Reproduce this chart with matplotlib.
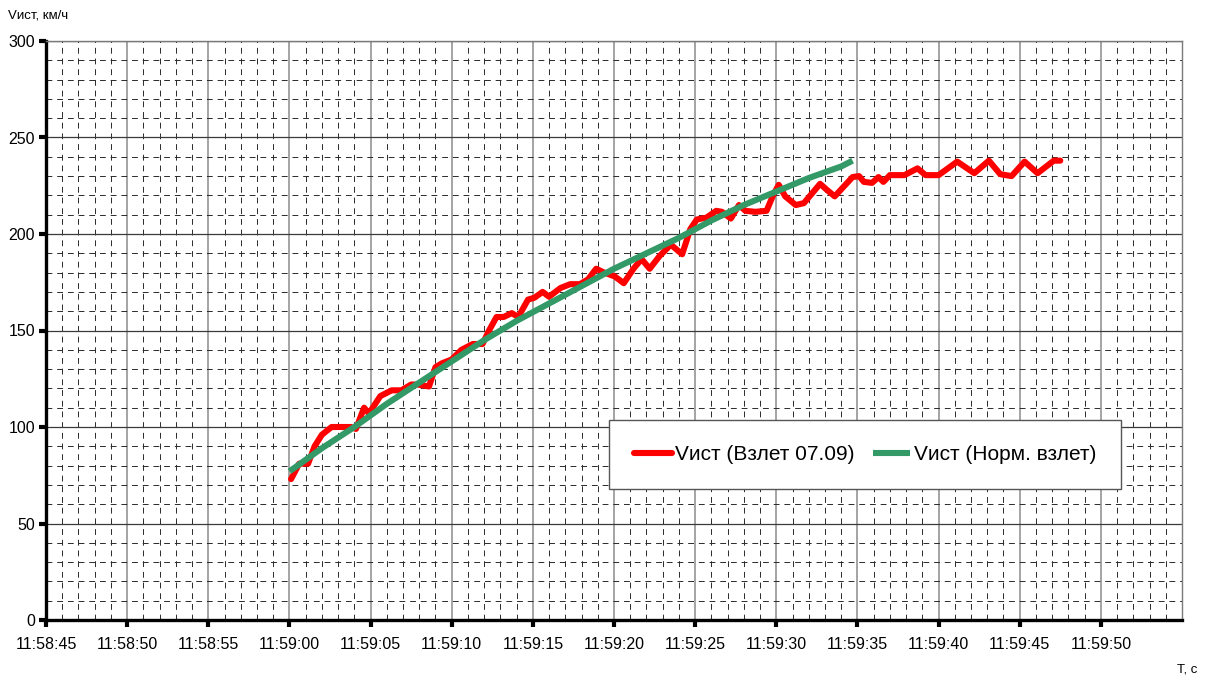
import datetime as dt
import matplotlib
matplotlib.use("Agg")
import matplotlib.pyplot as plt
import matplotlib.dates as mdates

plt.rcParams['font.family'] = ['Liberation Sans', 'DejaVu Sans']

# Data (seconds after 11:59:00, km/h)
base = dt.datetime(2000, 1, 1, 11, 59, 0)

red_t = [0.1, 0.6, 1.15, 1.55, 2.0, 2.6, 3.8, 4.1, 4.6, 4.9, 5.6, 6.3, 6.9, 7.5,
         7.9, 8.6, 9.0, 9.4, 10.0, 10.6, 11.3, 11.9, 12.3, 12.76, 13.2, 13.7, 14.1,
         14.7, 15.1, 15.6, 16.0, 16.7, 17.3, 17.9, 18.4, 18.9, 19.4, 20.05, 20.6,
         21.2, 21.7, 22.2, 22.8, 23.5, 24.2, 24.7, 25.1, 25.7, 26.3, 26.65, 27.2,
         27.7, 28.1, 28.7, 29.4, 29.8, 30.15, 30.55, 31.2, 31.7, 32.2, 32.7, 33.1,
         33.6, 34.15, 34.7, 35.1, 35.4, 35.9, 36.3, 36.6, 37.0, 37.9, 38.7, 39.2,
         40.0, 41.15, 42.2, 43.1, 43.8, 44.5, 45.3, 46.1, 47.1, 47.5]
red_v = [73, 81, 81, 90, 96, 100, 100, 99, 110, 107, 116, 119, 119, 122,
         122, 121, 131, 133, 135, 140, 143, 143, 150, 157, 157, 159, 157,
         166, 167, 170, 167.5, 172, 174, 174, 176.5, 182, 180, 178, 174.5,
         182, 187, 182, 188.5, 194.5, 189.5, 202.5, 207.5, 208.5, 212, 211.5, 208,
         215, 212, 211.5, 212, 220, 225.5, 219.5, 215, 216, 221, 226, 223,
         219.5, 224.5, 229.5, 230, 227, 226.5, 229.5, 227, 230.5, 230.5, 234, 230.5,
         230.5, 237.5, 231.5, 238, 231, 230, 237.5, 231.5, 238, 238]

green_t = [0, 2, 4, 6, 8, 10, 12, 14, 16, 18, 20, 22, 24, 26, 28, 30, 32, 34, 34.7]
green_v = [77, 89, 100, 112, 123, 134, 145, 155, 164, 173, 182, 190, 198, 207,
           215, 222, 229, 235, 238]

# x tick positions (seconds after 11:59:00)
tick_secs = list(range(-15, 51, 5))

label_red = 'Vист (Взлет 07.09)'
label_green = 'Vист (Норм. взлет)'


def to_time(secs):
    return [base + dt.timedelta(seconds=s) for s in secs]


fig = plt.figure(figsize=(12.06, 6.78), dpi=100)
ax = fig.add_axes([46 / 1206, 1 - 620 / 678, 1136 / 1206, 579 / 678])

ax.plot(to_time(red_t), red_v, color='#ff0000', lw=4.4, solid_joinstyle='round',
        solid_capstyle='round', label=label_red, zorder=3)
ax.plot(to_time(green_t), green_v, color='#339966', lw=4.4, solid_capstyle='butt',
        label=label_green, zorder=4)

ax.set_xlim(base - dt.timedelta(seconds=15), base + dt.timedelta(seconds=55))
ax.set_ylim(0, 300)

ax.set_xticks(mdates.date2num(to_time(tick_secs)))
ax.xaxis.set_minor_locator(mdates.SecondLocator())
ax.xaxis.set_major_formatter(mdates.DateFormatter('%H:%M:%S'))
ax.set_yticks(range(0, 301, 50))
ax.set_yticks(range(0, 301, 10), minor=True)

# grid
ax.set_axisbelow(True)
ax.grid(which='major', axis='y', color='#3a3a3a', lw=0.9, ls='-')
ax.grid(which='major', axis='x', color='#8c8c8c', lw=1.1, ls='-')
ax.grid(which='minor', color='#2a2a2a', lw=0.7, ls=(0, (6, 5)))

ax.tick_params(which='major', direction='out', length=5, width=3, color='black',
               labelsize=11.5)
ax.tick_params(axis='x', which='major', pad=7)
ax.tick_params(axis='y', which='major', pad=3)
ax.tick_params(which='minor', length=0)

for side in ['left', 'bottom']:
    ax.spines[side].set_linewidth(2.4)
    ax.spines[side].set_color('black')
for side in ['top', 'right']:
    ax.spines[side].set_linewidth(1.0)
    ax.spines[side].set_color('#7a7a7a')

leg = ax.legend(loc='center', bbox_to_anchor=(0.721, 0.286), ncol=2, fontsize=15,
                frameon=True, fancybox=False, handlelength=1.8, handletextpad=0.15,
                columnspacing=0.9, borderpad=1.2, borderaxespad=0)
leg.get_frame().set_edgecolor('#555555')
leg.get_frame().set_linewidth(1.0)
leg.get_frame().set_alpha(1)

fig.text(8 / 1206, 1 - 15 / 678, 'Vист, км/ч', fontsize=9.5, ha='left', va='center')
fig.text(1197 / 1206, 1 - 670 / 678, 'T, с', fontsize=9.5, ha='right', va='center')

fig.savefig('out.png', dpi=100)
